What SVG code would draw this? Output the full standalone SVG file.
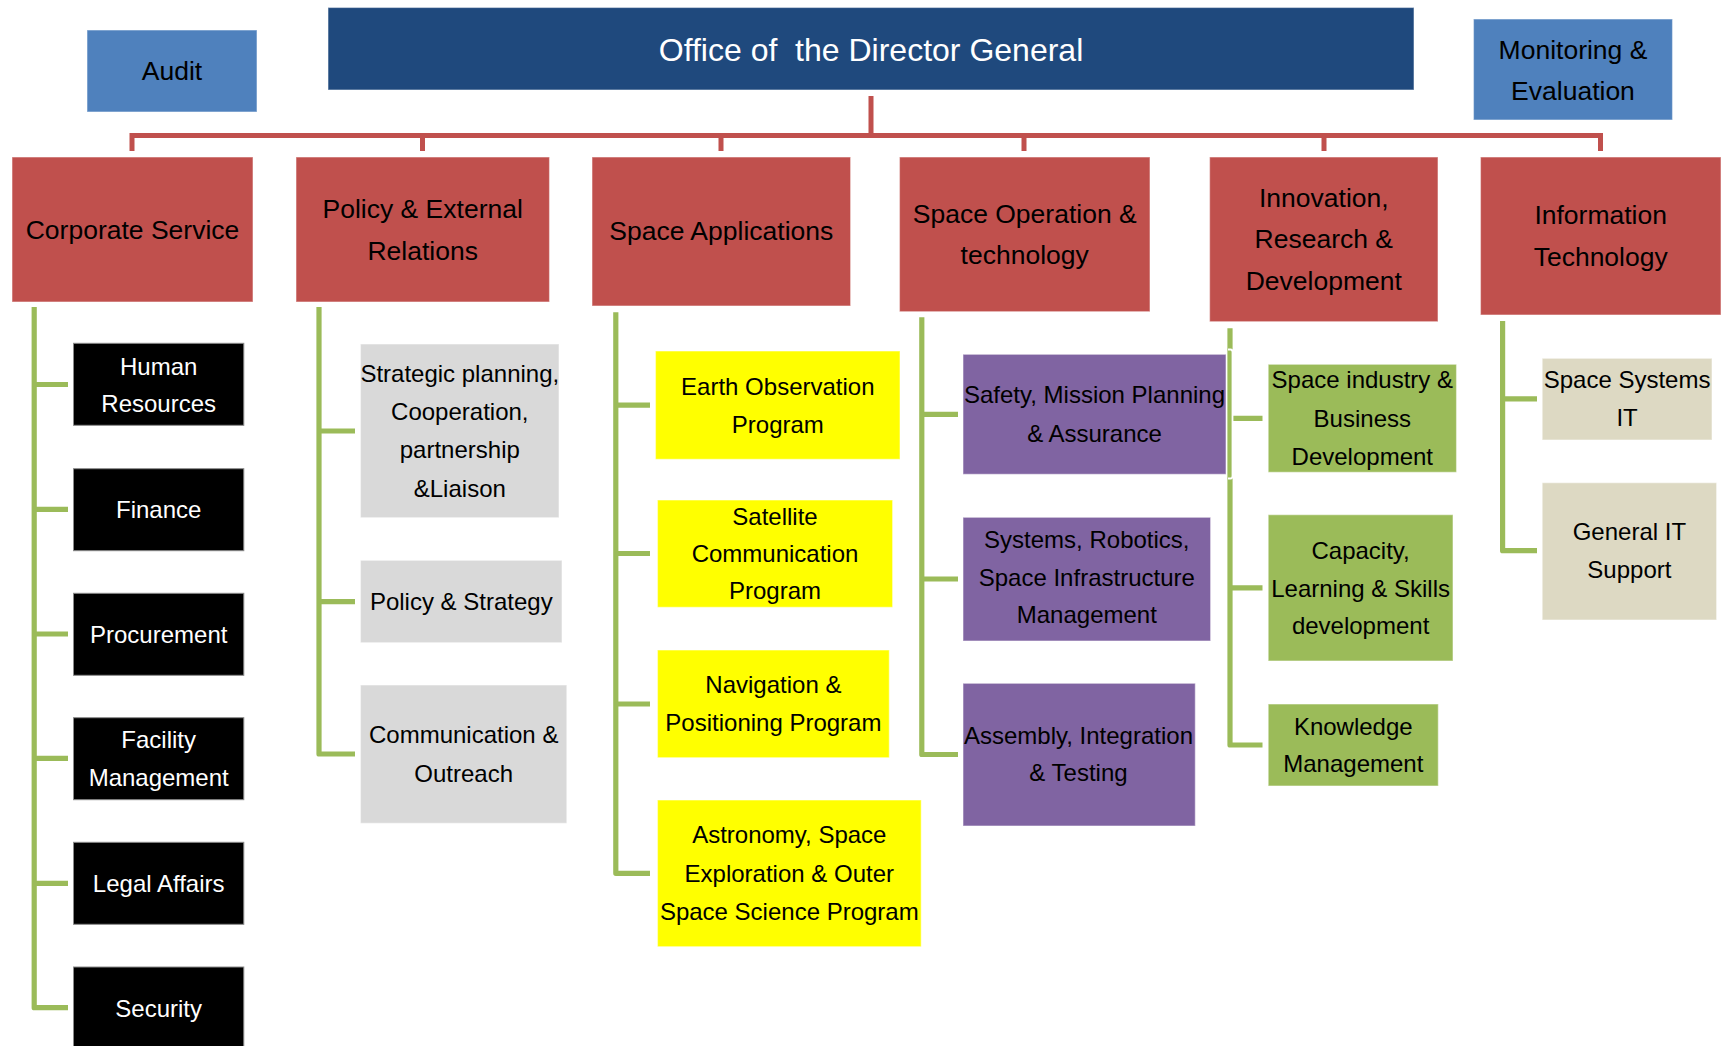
<svg xmlns="http://www.w3.org/2000/svg" width="1727" height="1046" viewBox="0 0 1727 1046">
<style>
text{font-family:"Liberation Sans",Arial,sans-serif;text-anchor:middle}
.t32{font-size:32px;fill:#fff}
.t26{font-size:26.5px;fill:#000}
.t24{font-size:24px;fill:#000}
.w{fill:#fff}
.box{stroke:#fff;stroke-opacity:.45;stroke-width:1.2}
.title{fill:#1F497D}
.blue{fill:#4F81BD}
.red{fill:#C0504D}
.blk{fill:#000;stroke:#8a8a8a;stroke-width:1}
.gry{fill:#D9D9D9}
.yel{fill:#FFFF00}
.pur{fill:#8064A2}
.grn{fill:#9BBB59}
.bei{fill:#DDD9C3}
.rl{fill:none;stroke:#C0504D;stroke-width:5}
.gl{fill:none;stroke:#9BBB59;stroke-width:5.2;stroke-linejoin:round}
</style>
<g id="connectors">
<path class="rl" d="M871 96V135.5M132 151V135.5H1600.5V151M422.5 135.5V151M721 135.5V151M1024 135.5V151M1324 135.5V151"/>
<path class="gl" d="M34.2 307V1007.7H68M34.2 384.5H68M34.2 509.3H68M34.2 634H68M34.2 758.4H68M34.2 883.3H68"/>
<path class="gl" d="M319 307V754H355M319 431H355M319 601.6H355"/>
<path class="gl" d="M615.8 312.3V873.3H650M615.8 405.2H650M615.8 553.5H650M615.8 704H650"/>
<path class="gl" d="M921.8 317.3V754.5H958M921.8 414.3H958M921.8 579H958"/>
<path class="gl" d="M1230 328.3V745H1262.5M1230 418.3H1262.5M1230 587.8H1262.5"/>
<path class="gl" d="M1502.6 321V550.7H1537M1502.6 398.8H1537"/>
<path d="M1228 349.5H1230.5Q1232.5 349.5 1232.5 352V476Q1232.5 478.5 1230.5 478.5H1228" fill="none" stroke="#fff" stroke-width="1.8"/>
</g>
<g id="director-general"><rect class="box title" x="328" y="7.5" width="1086" height="82.5"/><text class="t32" x="871" y="60.5" xml:space="preserve">Office of  the Director General</text></g>
<g id="audit"><rect class="box blue" x="87" y="30" width="170" height="82"/><text class="t26" x="172" y="80.3">Audit</text></g>
<g id="monitoring"><rect class="box blue" x="1473.5" y="19" width="199" height="101"/><text class="t26" x="1573" y="59.3">Monitoring &amp;<tspan x="1573" y="100">Evaluation</tspan></text></g>

<g id="corporate-service"><rect class="box red" x="12" y="157" width="241" height="145"/><text class="t26" x="132.5" y="239">Corporate Service</text></g>
<g id="policy-external"><rect class="box red" x="296" y="157" width="253.5" height="145"/><text class="t26" x="422.7" y="218.3">Policy &amp; External<tspan x="422.7" y="259.5">Relations</tspan></text></g>
<g id="space-applications"><rect class="box red" x="592" y="157" width="258.6" height="149"/><text class="t26" x="721.3" y="240">Space Applications</text></g>
<g id="space-operation"><rect class="box red" x="899.5" y="157" width="250.5" height="154.7"/><text class="t26" x="1024.7" y="222.7">Space Operation &amp;<tspan x="1024.7" y="264">technology</tspan></text></g>
<g id="innovation"><rect class="box red" x="1209.6" y="157" width="228.4" height="164.7"/><text class="t26" x="1323.8" y="206.7">Innovation,<tspan x="1323.8" y="248.3">Research &amp;</tspan><tspan x="1323.8" y="290">Development</tspan></text></g>
<g id="information-technology"><rect class="box red" x="1480.5" y="157" width="240.5" height="158"/><text class="t26" x="1600.7" y="224">Information<tspan x="1600.7" y="266">Technology</tspan></text></g>

<g id="human-resources"><rect class="blk" x="73.5" y="343.3" width="170.3" height="82"/><text class="t24 w" x="158.7" y="375">Human<tspan x="158.7" y="412">Resources</tspan></text></g>
<g id="finance"><rect class="blk" x="73.5" y="468.7" width="170.3" height="82"/><text class="t24 w" x="158.7" y="518.3">Finance</text></g>
<g id="procurement"><rect class="blk" x="73.5" y="593.3" width="170.3" height="82"/><text class="t24 w" x="158.7" y="642.6">Procurement</text></g>
<g id="facility-management"><rect class="blk" x="73.5" y="717.7" width="170.3" height="82"/><text class="t24 w" x="158.7" y="748.3">Facility<tspan x="158.7" y="786">Management</tspan></text></g>
<g id="legal-affairs"><rect class="blk" x="73.5" y="842.3" width="170.3" height="82"/><text class="t24 w" x="158.7" y="891.9">Legal Affairs</text></g>
<g id="security"><rect class="blk" x="73.5" y="967" width="170.3" height="82"/><text class="t24 w" x="158.7" y="1016.7">Security</text></g>

<g id="strategic-planning"><rect class="box gry" x="360.5" y="344" width="198.5" height="173.7"/><text class="t24" x="459.8" y="381.7">Strategic planning,<tspan x="459.8" y="420">Cooperation,</tspan><tspan x="459.8" y="458.3">partnership</tspan><tspan x="459.8" y="496.5">&amp;Liaison</tspan></text></g>
<g id="policy-strategy"><rect class="box gry" x="360.5" y="560.3" width="201.5" height="82.4"/><text class="t24" x="461.3" y="610.2">Policy &amp; Strategy</text></g>
<g id="communication-outreach"><rect class="box gry" x="360.5" y="685" width="206.3" height="138.3"/><text class="t24" x="463.7" y="743.3">Communication &amp;<tspan x="463.7" y="781.7">Outreach</tspan></text></g>

<g id="earth-observation"><rect class="box yel" x="655.5" y="351" width="244.5" height="108.3"/><text class="t24" x="777.8" y="395">Earth Observation<tspan x="777.8" y="432.7">Program</tspan></text></g>
<g id="satellite-communication"><rect class="box yel" x="657.5" y="500" width="235.1" height="107.3"/><text class="t24" x="775" y="524.7">Satellite<tspan x="775" y="562">Communication</tspan><tspan x="775" y="599.3">Program</tspan></text></g>
<g id="navigation-positioning"><rect class="box yel" x="657.5" y="650" width="231.8" height="107.7"/><text class="t24" x="773.4" y="693.3">Navigation &amp;<tspan x="773.4" y="730.7">Positioning Program</tspan></text></g>
<g id="astronomy"><rect class="box yel" x="657.5" y="800" width="263.7" height="146.7"/><text class="t24" x="789.3" y="843.3">Astronomy, Space<tspan x="789.3" y="881.6">Exploration &amp; Outer</tspan><tspan x="789.3" y="919.5">Space Science Program</tspan></text></g>

<g id="safety-mission"><rect class="box pur" x="963" y="354.3" width="263" height="120"/><text class="t24" x="1094.5" y="403.3">Safety, Mission Planning<tspan x="1094.5" y="441.7">&amp; Assurance</tspan></text></g>
<g id="systems-robotics"><rect class="box pur" x="963" y="517.3" width="247.6" height="123.7"/><text class="t24" x="1086.8" y="548.3">Systems, Robotics,<tspan x="1086.8" y="586">Space Infrastructure</tspan><tspan x="1086.8" y="623.3">Management</tspan></text></g>
<g id="assembly-integration"><rect class="box pur" x="963" y="683.3" width="232.3" height="142.7"/><text class="t24" x="1078.5" y="744">Assembly, Integration<tspan x="1078.5" y="781">&amp; Testing</tspan></text></g>

<g id="space-industry"><rect class="box grn" x="1268.2" y="364.3" width="188.3" height="108"/><text class="t24" x="1362.3" y="388.3">Space industry &amp;<tspan x="1362.3" y="426.5">Business</tspan><tspan x="1362.3" y="464.5">Development</tspan></text></g>
<g id="capacity-learning"><rect class="box grn" x="1268.2" y="514.7" width="184.8" height="146.3"/><text class="t24" x="1360.6" y="559.3">Capacity,<tspan x="1360.6" y="596.7">Learning &amp; Skills</tspan><tspan x="1360.6" y="633.7">development</tspan></text></g>
<g id="knowledge-management"><rect class="box grn" x="1268.2" y="704" width="170.1" height="82"/><text class="t24" x="1353.3" y="735">Knowledge<tspan x="1353.3" y="772">Management</tspan></text></g>

<g id="space-systems-it"><rect class="box bei" x="1542.2" y="358.3" width="169.8" height="81.7"/><text class="t24" x="1627.1" y="388.3">Space Systems<tspan x="1627.1" y="425.7">IT</tspan></text></g>
<g id="general-it-support"><rect class="box bei" x="1542.2" y="482.7" width="174.4" height="137.3"/><text class="t24" x="1629.4" y="540">General IT<tspan x="1629.4" y="578.3">Support</tspan></text></g>
</svg>
